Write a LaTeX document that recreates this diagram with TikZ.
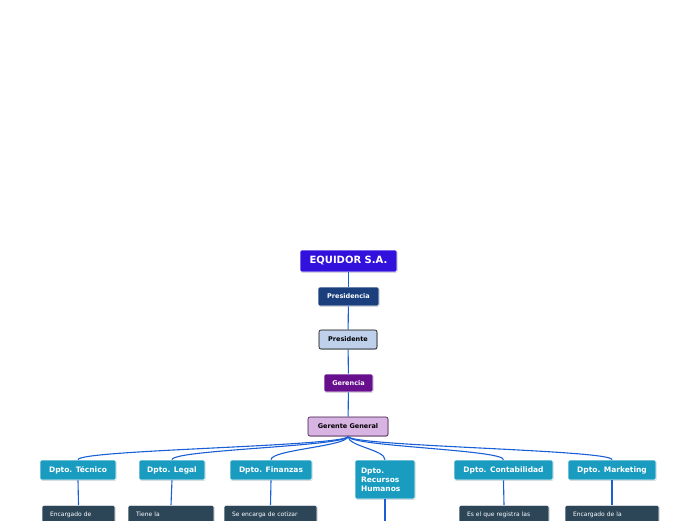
\documentclass[tikz,border=0pt]{standalone}
\usepackage{fontspec}
\setmainfont{DejaVu Sans}
\usetikzlibrary{shadows}
\definecolor{violeta}{HTML}{3311DD}
\definecolor{marino}{HTML}{1B3F7D}
\definecolor{celeste}{HTML}{BFD0EA}
\definecolor{morado}{HTML}{680F8D}
\definecolor{lila}{HTML}{D8B4E2}
\definecolor{ciruela}{HTML}{3A1040}
\definecolor{turquesa}{HTML}{1A9CC0}
\definecolor{pizarra}{HTML}{2C4658}
\definecolor{azul}{HTML}{1A5FD6}

\begin{document}
\begin{tikzpicture}[x=1pt,y=-1pt,
	caja/.style={rounded corners=2pt, draw=white, line width=0.6pt, text=white, inner sep=0pt,
		font=\bfseries\fontsize{6.5}{7.5}\selectfont,
		drop shadow={shadow xshift=0.6pt, shadow yshift=-0.8pt, opacity=0.35}},
	depto/.style={caja, fill=turquesa, font=\bfseries\fontsize{7.5}{9}\selectfont, minimum height=20},
	nota/.style={caja, fill=pizarra, anchor=north, align=left, inner xsep=8pt, inner ysep=6pt,
		text height=5pt, text depth=22pt, font=\fontsize{6}{7}\selectfont},
	enlace/.style={draw=azul, line width=1.1pt}]
		\useasboundingbox (0,0) rectangle (696,520);
		\clip (0,0) rectangle (696,520);

		\node [caja, fill=violeta, font=\bfseries\fontsize{10}{12}\selectfont, minimum width=97, minimum height=22] (equidor) at (348.5,261) {EQUIDOR S.A.};
		\node [caja, fill=marino, minimum width=61, minimum height=19] (presidencia) at (348.5,296.5) {Presidencia};
		\node [caja, fill=celeste, draw=black, text=black, minimum width=58, minimum height=19] (presidente) at (348,339.5) {Presidente};
		\node [caja, fill=morado, minimum width=49, minimum height=18] (gerencia) at (348.5,383) {Gerencia};
		\node [caja, fill=lila, draw=ciruela, text=black, minimum width=80, minimum height=19] (gerente) at (348,426.5) {Gerente General};

		\node [depto, minimum width=76] (tecnico) at (78,470) {Dpto. Técnico};
		\node [depto, minimum width=66] (legal) at (172,470) {Dpto. Legal};
		\node [depto, minimum width=82] (finanzas) at (271,470) {Dpto. Finanzas};
		\node [depto, minimum width=60, minimum height=39, text width=48, align=left] (rrhh) at (385,479.5) {Dpto.\\Recursos\\Humanos};
		\node [depto, minimum width=99] (contab) at (503.5,470) {Dpto. Contabilidad};
		\node [depto, minimum width=88] (marketing) at (612,470) {Dpto. Marketing};

		\node [nota, text width=57] (notatec) at (78.5,505) {Encargado de};
		\node [nota, text width=70] (notalegal) at (171,505) {Tiene la};
		\node [nota, text width=77] (notafin) at (270.5,505) {Se encarga de cotizar};
		\node [nota, text width=74] (notacont) at (504,505) {Es el que registra las};
		\node [nota, text width=78] (notamark) at (612,505) {Encargado de la};
		\coordinate (rrhhabajo) at (385,525);

		\draw [enlace] (equidor) -- (presidencia);
		\draw [enlace] (presidencia) -- (presidente);
		\draw [enlace] (presidente) -- (gerencia);
		\draw [enlace] (gerencia) -- (gerente);
		\foreach \d in {tecnico,legal,finanzas,rrhh,contab,marketing}
			\draw [enlace] (gerente.south) .. controls +(0,10) and +(0,-10) .. (\d.north);

		\draw [enlace] (tecnico.south) -- (notatec.north);
		\draw [enlace] (legal.south) -- (notalegal.north);
		\draw [enlace] (finanzas.south) -- (notafin.north);
		\draw [enlace] (rrhh.south) -- (rrhhabajo);
		\draw [enlace] (contab.south) -- (notacont.north);
		\draw [enlace] (marketing.south) -- (notamark.north);
\end{tikzpicture}
\end{document}
